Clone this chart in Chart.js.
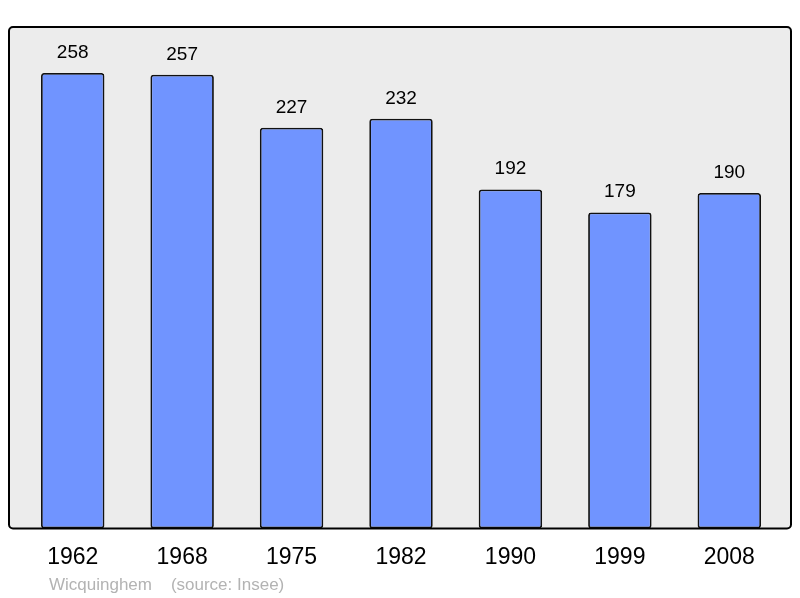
<!DOCTYPE html>
<html>
<head>
<meta charset="utf-8">
<script src="https://cdn.jsdelivr.net/npm/chart.js@4.4.0/dist/chart.umd.min.js"></script>
<style>
html,body{margin:0;padding:0;background:#fff;}
#wrap{width:800px;height:598px;}
</style>
</head>
<body>
<div id="wrap"><canvas id="c" width="800" height="598"></canvas></div>
<script>
const years = ["1962","1968","1975","1982","1990","1999","2008"];
const population = [258,257,227,232,192,179,190];
const sourceText = "Wicquinghem    (source: Insee)";

const FONT = "'Liberation Sans', Arial, sans-serif";

const bgPlugin = {
  id: 'bg',
  beforeDraw(chart){
    const {ctx, chartArea:a} = chart;
    const l = a.left - 9, r = a.right + 7, t = a.top, b = a.bottom;
    ctx.save();
    ctx.beginPath();
    ctx.roundRect(l, t, r - l, b - t, 4);
    ctx.fillStyle = '#ececec';
    ctx.fill();
    ctx.restore();
  },
  afterDatasetsDraw(chart){
    const {ctx, chartArea:a} = chart;
    const l = a.left - 9, r = a.right + 7, t = a.top, b = a.bottom;
    ctx.save();
    ctx.beginPath();
    ctx.roundRect(l, t, r - l, b - t, 4);
    ctx.lineWidth = 2;
    ctx.strokeStyle = '#000';
    ctx.stroke();
    // value labels
    const meta = chart.getDatasetMeta(0);
    ctx.fillStyle = '#000';
    ctx.font = '19px ' + FONT;
    ctx.textAlign = 'center';
    ctx.textBaseline = 'alphabetic';
    meta.data.forEach((el, i) => {
      ctx.fillText(String(population[i]), el.x, el.y - 15);
    });
    // source
    ctx.fillStyle = '#b3b3b3';
    ctx.font = '17px ' + FONT;
    ctx.textAlign = 'left';
    ctx.fillText(sourceText, 49, 590);
    ctx.restore();
  }
};

new Chart(document.getElementById('c'), {
  type: 'bar',
  data: {
    labels: years,
    datasets: [{
      data: population,
      backgroundColor: '#7094ff',
      borderColor: '#111',
      borderWidth: 1.8,
      borderRadius: 3,
      borderSkipped: false,
      barPercentage: 0.58,
      categoryPercentage: 1
    }]
  },
  options: {
    responsive: false,
    animation: false,
    devicePixelRatio: 1,
    layout: { padding: { top: 27, left: 18, right: 16, bottom: 20 } },
    plugins: { legend: { display: false }, tooltip: { enabled: false } },
    scales: {
      y: { display: false, min: 0, max: 284 },
      x: {
        grid: { display: false },
        border: { display: false },
        ticks: { color: '#000', padding: 7, font: { family: FONT, size: 23 } }
      }
    }
  },
  plugins: [bgPlugin]
});
</script>
</body>
</html>
